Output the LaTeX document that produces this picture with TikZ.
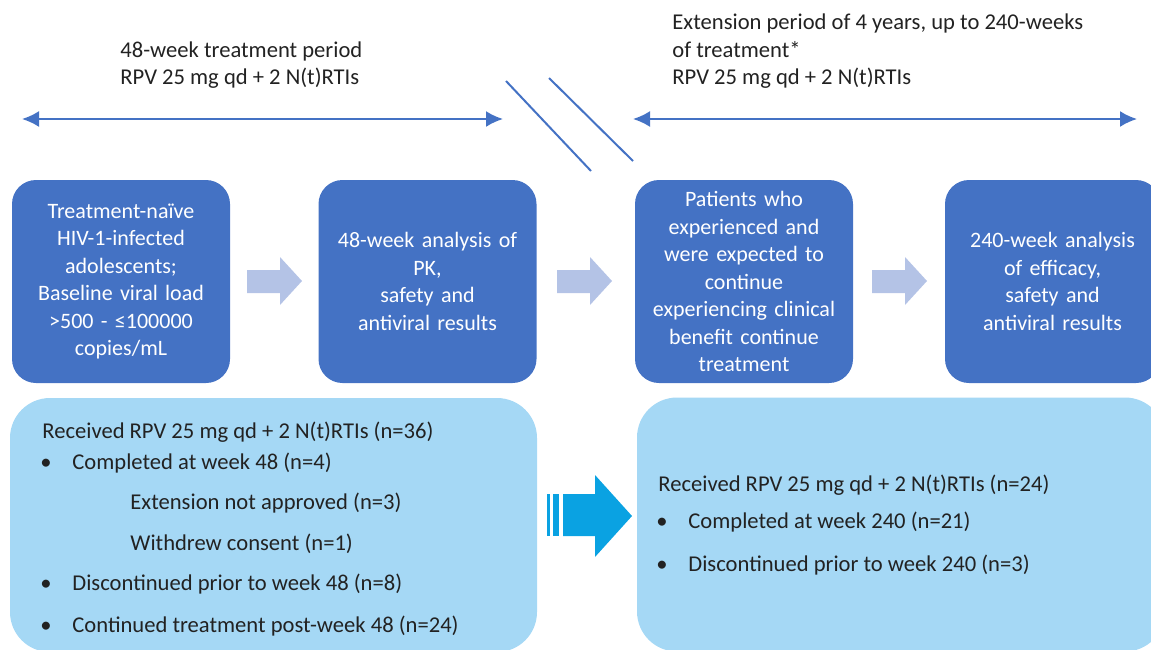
\documentclass[tikz,border=0pt]{standalone}
\usepackage{fontspec}
\setmainfont{Carlito}
\usepackage{xcolor}
\usepackage{tikz}
\usetikzlibrary{arrows.meta,positioning}
\definecolor{boxblue}{HTML}{4472C4}
\definecolor{paleblue}{HTML}{B4C3E6}
\definecolor{skyfill}{HTML}{A5D8F5}
\definecolor{cyanarrow}{HTML}{0AA2E2}
\definecolor{inkgray}{HTML}{222222}
\begin{document}
\begin{tikzpicture}[x=0.5pt,y=-0.5pt,
  font=\fontsize{11.3}{13.75}\selectfont,
  phasebox/.style={draw=none,fill=boxblue,rounded corners=12pt,text=white,align=center,
    font=\fontsize{11}{13.75}\selectfont,
    minimum width=109pt,minimum height=101.5pt,text width=104pt,inner sep=0pt},
  countbox/.style={fill=skyfill,rounded corners=20pt,minimum height=127pt,inner sep=0pt},
  line/.style={anchor=base west,text=inkgray,inner sep=0pt},
  period/.style={{Latex[length=8.5pt,width=8pt]}-{Latex[length=8.5pt,width=8pt]},boxblue,line width=1pt}]
\useasboundingbox (0,0) rectangle (1151,649);
\clip (0,0) rectangle (1151,649);
% period labels
\node[line] (t48a) at (120,57) {48-week treatment period};
\node[line] (t48b) at (120,84) {RPV 25 mg qd + 2 N(t)RTIs};
\node[line] (t240a) at (672,29) {Extension period of 4 years, up to 240-weeks};
\node[line] (t240b) at (672,57) {of treatment*};
\node[line] (t240c) at (672,84) {RPV 25 mg qd + 2 N(t)RTIs};
\coordinate (p48l) at (22,119);
\coordinate (p48r) at (503,119);
\coordinate (p240l) at (633,119);
\coordinate (p240r) at (1137,119);
\draw[period] (p48l) -- (p48r);
\draw[period] (p240l) -- (p240r);
% break marks
\draw[boxblue,line width=1pt] (506,81) -- (591,171);
\draw[boxblue,line width=1pt] (549,78) -- (633,161);
% phase boxes
\node[phasebox] (start) at (121,281.5) {Treatment-na\"ive\\HIV-1-infected\\adolescents;\\Baseline viral load\\>500 - ≤100000\\copies/mL};
\node[phasebox] (wk48) at (427.5,281.5) {48-week analysis of\\PK,\\safety and\\antiviral results};
\node[phasebox] (ext) at (744,281.5) {Patients who\\experienced and\\were expected to\\continue\\experiencing clinical\\benefit continue\\treatment};
\node[phasebox,minimum width=107.5pt] (wk240) at (1052.5,281.5) {240-week analysis\\of efficacy,\\safety and\\antiviral results};
\foreach \ax in {247,557,872}
  \fill[paleblue] (\ax,270) -- ++(33,0) -- ++(0,-13) -- ++(22,24) -- ++(-22,24) -- ++(0,-12) -- ++(-33,0) -- cycle;
% patient counts
\node[countbox,minimum width=263.5pt] (res48) at (273.5,525) {};
\node[countbox,minimum width=264pt] (res240) at (901,524.5) {};
\node[line] (r48) at (42,438) {Received RPV 25 mg qd + 2 N(t)RTIs (n=36)};
\node[line] (b1) at (40,469) {•};
\node[line] (c48) at (72,469) {Completed at week 48 (n=4)};
\node[line] (ena) at (130,509) {Extension not approved (n=3)};
\node[line] (wdc) at (130,550) {Withdrew consent (n=1)};
\node[line] (b2) at (40,590) {•};
\node[line] (d48) at (72,590) {Discontinued prior to week 48 (n=8)};
\node[line] (b3) at (40,632) {•};
\node[line] (ct48) at (72,632) {Continued treatment post-week 48 (n=24)};
\node[line] (r240) at (658,491) {Received RPV 25 mg qd + 2 N(t)RTIs (n=24)};
\node[line] (b4) at (656,528) {•};
\node[line] (c240) at (688,528) {Completed at week 240 (n=21)};
\node[line] (b5) at (656,571) {•};
\node[line] (d240) at (688,571) {Discontinued prior to week 240 (n=3)};
% transfer arrow
\fill[cyanarrow] (547,494) rectangle (550,536);
\fill[cyanarrow] (553,494) rectangle (559,536);
\fill[cyanarrow] (563,494) -- (595,494) -- (595,475) -- (632,516) -- (595,557) -- (595,536) -- (563,536) -- cycle;
\end{tikzpicture}
\end{document}
